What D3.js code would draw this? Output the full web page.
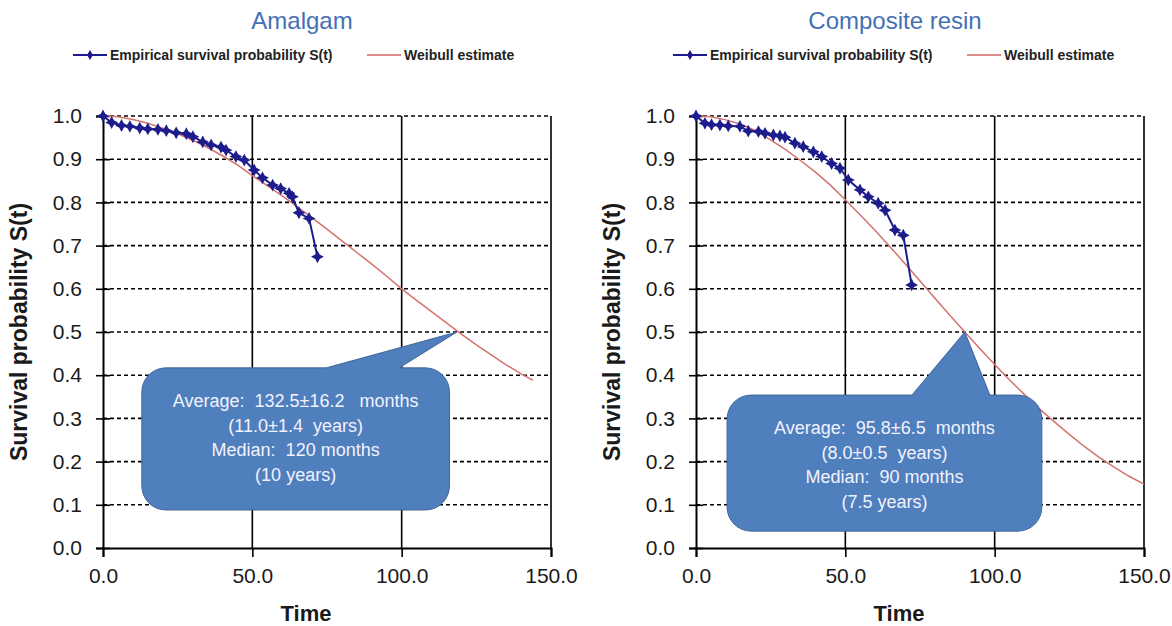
<!DOCTYPE html>
<html>
<head>
<meta charset="utf-8">
<script src="https://cdn.jsdelivr.net/npm/d3@7"></script>
<style>
  body { margin: 0; background: #fff; }
  text { font-family: "Liberation Sans", Arial, sans-serif; }
</style>
</head>
<body>
<div id="chart"></div>
<script>
// Amalgam - empirical survival S(t)
const amalgamT = [0, 2.9, 6.2, 9, 12.3, 15, 18.4, 21.2, 24.5, 27.9, 30.1, 33.4, 36.2, 39.5, 41.2, 44.5, 47.3, 50.6, 53.4, 56.8, 59.5, 62.3, 63.4, 65.6, 69, 71.8]
const amalgamS = [1.0, 0.985, 0.978, 0.976, 0.972, 0.970, 0.969, 0.966, 0.961, 0.959, 0.952, 0.940, 0.933, 0.928, 0.921, 0.906, 0.898, 0.875, 0.857, 0.840, 0.832, 0.821, 0.813, 0.776, 0.763, 0.674]
// Amalgam - Weibull estimate
const amalgamWt = [0, 5, 10, 15, 20, 25, 30, 35, 40, 45, 50, 55, 60, 65, 70, 75, 80, 85, 90, 95, 100, 105, 110, 115, 120, 125, 130, 135, 140, 144]
const amalgamWs = [1.000, 0.998, 0.992, 0.983, 0.972, 0.959, 0.944, 0.927, 0.908, 0.887, 0.862, 0.839, 0.815, 0.790, 0.764, 0.738, 0.711, 0.684, 0.657, 0.629, 0.600, 0.573, 0.547, 0.521, 0.495, 0.470, 0.447, 0.424, 0.403, 0.388]

// Composite resin - empirical survival S(t)
const resinT = [0, 3, 5.2, 8, 10.8, 14.7, 17.5, 20.9, 23.1, 25.9, 28.1, 29.8, 33.1, 35.9, 39.3, 42.1, 45.4, 48.2, 51, 54.9, 57.7, 61, 63.3, 66.6, 69.4, 72.2]
const resinS = [1.0, 0.983, 0.980, 0.979, 0.977, 0.976, 0.965, 0.964, 0.960, 0.956, 0.954, 0.951, 0.937, 0.929, 0.917, 0.906, 0.890, 0.879, 0.852, 0.829, 0.813, 0.798, 0.782, 0.736, 0.724, 0.609]
// Composite resin - Weibull estimate
const resinWt = [0, 5, 10, 15, 20, 25, 30, 35, 40, 45, 50, 55, 60, 65, 70, 75, 80, 85, 90, 95, 100, 105, 110, 115, 120, 125, 130, 135, 140, 145, 150]
const resinWs = [1.000, 0.998, 0.991, 0.981, 0.966, 0.945, 0.922, 0.897, 0.870, 0.840, 0.806, 0.771, 0.735, 0.697, 0.658, 0.618, 0.578, 0.539, 0.500, 0.462, 0.425, 0.389, 0.355, 0.322, 0.292, 0.263, 0.235, 0.210, 0.187, 0.166, 0.148]

// ticks and labels
const xTicks = [0, 50, 100, 150]
const yTicks = [0, 0.1, 0.2, 0.3, 0.4, 0.5, 0.6, 0.7, 0.8, 0.9, 1.0]
const titles = ['Amalgam', 'Composite resin']
const legendLabels = ['Empirical survival probability S(t)', 'Weibull estimate']
const amalgamNote = ['Average:  132.5±16.2   months', '(11.0±1.4  years)', 'Median:  120 months', '(10 years)']
const resinNote = ['Average:  95.8±6.5  months', '(8.0±0.5  years)', 'Median:  90 months', '(7.5 years)']
const medians = [118.5, 90]

const width = 1172,
  height = 626

const svg = d3.select('#chart')
  .append('svg')
  .attr('width', width)
  .attr('height', height)
  .style('background', '#fff')

// 4 pointed star used for the empirical markers
const star4 = {
  draw (ctx, size) {
    const r = Math.sqrt(size) * 0.8
    const i = r * 0.35
    ctx.moveTo(0, -r)
    ctx.lineTo(i, -i)
    ctx.lineTo(r, 0)
    ctx.lineTo(i, i)
    ctx.lineTo(0, r)
    ctx.lineTo(-i, i)
    ctx.lineTo(-r, 0)
    ctx.lineTo(-i, -i)
    ctx.closePath()
  }
}

const panels = [
  { left: 103, title: titles[0], titleX: 302, t: amalgamT, s: amalgamS, wt: amalgamWt, ws: amalgamWs,
    note: amalgamNote, median: medians[0], box: [13, 116, 0.417, 0.088], base: [74.8, 99.2], legendX: 73 },
  { left: 696, title: titles[1], titleX: 895, t: resinT, s: resinS, wt: resinWt, ws: resinWs,
    note: resinNote, median: medians[1], box: [10.4, 115.8, 0.354, 0.039], base: [72.3, 98.4], legendX: 673 }
]

const drawPanel = (p) => {
  const x = d3.scaleLinear().domain([0, 150]).range([p.left, p.left + 448])
  const y = d3.scaleLinear().domain([0, 1]).range([548, 116])
  const g = svg.append('g')

  // title
  g.append('text')
    .attr('x', p.titleX)
    .attr('y', 29)
    .attr('text-anchor', 'middle')
    .attr('font-size', 24)
    .attr('fill', '#4471b5')
    .text(p.title)

  // legend
  const lg = g.append('g').attr('transform', `translate(${p.legendX}, 55)`)
  lg.append('line').attr('x1', 0).attr('x2', 34).attr('stroke', '#1c1c8c').attr('stroke-width', 2)
  lg.append('path').attr('d', d3.symbol(d3.symbolDiamond, 30)()).attr('transform', 'translate(17,0)').attr('fill', '#1c1c8c')
  lg.append('text').attr('x', 37).attr('dy', '0.35em').attr('font-size', 14).attr('font-weight', 'bold')
    .attr('fill', '#222').text(legendLabels[0])
  lg.append('line').attr('x1', 294).attr('x2', 328).attr('stroke', '#d06a66').attr('stroke-width', 1.5)
  lg.append('text').attr('x', 331).attr('dy', '0.35em').attr('font-size', 14).attr('font-weight', 'bold')
    .attr('fill', '#222').text(legendLabels[1])

  // horizontal dashed grid
  g.append('g').selectAll('line')
    .data(yTicks.filter(d => d > 0))
    .enter()
    .append('line')
    .attr('x1', x(0)).attr('x2', x(150))
    .attr('y1', d => y(d)).attr('y2', d => y(d))
    .attr('stroke', '#000')
    .attr('stroke-width', 1.6)
    .attr('stroke-dasharray', '4,3')

  // vertical solid grid
  g.append('g').selectAll('line')
    .data(xTicks.filter(d => d > 0))
    .enter()
    .append('line')
    .attr('x1', d => x(d)).attr('x2', d => x(d))
    .attr('y1', y(0)).attr('y2', y(1))
    .attr('stroke', '#000')
    .attr('stroke-width', 1.6)

  // axes
  const yAxis = d3.axisLeft(y).tickValues(yTicks).tickFormat(d3.format('.1f')).tickSize(7).tickPadding(14)
  const ya = g.append('g').attr('transform', `translate(${x(0)},0)`).call(yAxis)
  g.append('g').attr('transform', `translate(${x(0)},0)`)
    .call(d3.axisLeft(y).tickValues(yTicks).tickSize(-7).tickFormat(''))
    .call(a => a.select('.domain').remove())

  const xAxis = d3.axisBottom(x).tickValues(xTicks).tickFormat(d3.format('.1f')).tickSize(9).tickPadding(11)
  const xa = g.append('g').attr('transform', `translate(0,${y(0)})`).call(xAxis)

  g.selectAll('.domain').attr('stroke-width', 2).attr('stroke', '#000')
  g.selectAll('.tick line').attr('stroke-width', 1.6)
  ;[ya, xa].forEach(a => a.selectAll('text')
    .attr('font-size', 21)
    .attr('font-family', '"Liberation Sans", Arial, sans-serif')
    .attr('fill', '#1a1a1a'))

  // axis titles
  g.append('text')
    .attr('transform', `translate(${p.left - 84},${(y(0) + y(1)) / 2}) rotate(-90)`)
    .attr('text-anchor', 'middle')
    .attr('dy', '0.35em')
    .attr('font-size', 23)
    .attr('font-weight', 'bold')
    .attr('fill', '#1a1a1a')
    .text('Survival probability S(t)')

  g.append('text')
    .attr('x', p.titleX + 4)
    .attr('y', 621)
    .attr('text-anchor', 'middle')
    .attr('font-size', 22)
    .attr('font-weight', 'bold')
    .attr('fill', '#1a1a1a')
    .text('Time')

  // Weibull estimate
  const line = d3.line().x(d => x(d[0])).y(d => y(d[1]))
  g.append('path')
    .datum(p.wt.map((t, i) => [t, p.ws[i]]))
    .attr('d', line)
    .attr('fill', 'none')
    .attr('stroke', '#d4726e')
    .attr('stroke-width', 1.5)

  // empirical survival
  const emp = p.t.map((t, i) => [t, p.s[i]])
  g.append('path')
    .datum(emp)
    .attr('d', line)
    .attr('fill', 'none')
    .attr('stroke', '#1c1c8c')
    .attr('stroke-width', 2)

  g.append('g').selectAll('path')
    .data(emp)
    .enter()
    .append('path')
    .attr('d', d3.symbol(star4, 64)())
    .attr('transform', d => `translate(${x(d[0])},${y(d[1])})`)
    .attr('fill', '#1c1c8c')

  // callout
  const [bx0, bx1, by0, by1] = p.box
  const X0 = x(bx0), X1 = x(bx1), Y0 = y(by0), Y1 = y(by1), r = 24
  const tipX = x(p.median), tipY = y(0.5)
  const path = d3.path()
  path.moveTo(X0 + r, Y0)
  path.lineTo(x(p.base[0]), Y0)
  path.lineTo(tipX, tipY)
  path.lineTo(x(p.base[1]), Y0)
  path.lineTo(X1 - r, Y0)
  path.arcTo(X1, Y0, X1, Y0 + r, r)
  path.lineTo(X1, Y1 - r)
  path.arcTo(X1, Y1, X1 - r, Y1, r)
  path.lineTo(X0 + r, Y1)
  path.arcTo(X0, Y1, X0, Y1 - r, r)
  path.lineTo(X0, Y0 + r)
  path.arcTo(X0, Y0, X0 + r, Y0, r)
  path.closePath()
  g.append('path')
    .attr('d', path.toString())
    .attr('fill', '#4f7fbc')
    .attr('stroke', '#3f679a')
    .attr('stroke-width', 1)

  g.append('g').selectAll('text')
    .data(p.note)
    .enter()
    .append('text')
    .attr('x', (X0 + X1) / 2)
    .attr('y', (d, i) => Y0 + 33 + i * 24.5)
    .attr('dy', '0.35em')
    .attr('text-anchor', 'middle')
    .attr('font-size', 18)
    .attr('fill', '#f2f2ff')
    .style('white-space', 'pre')
    .text(d => d)
}

panels.forEach(drawPanel)
</script>
</body>
</html>
